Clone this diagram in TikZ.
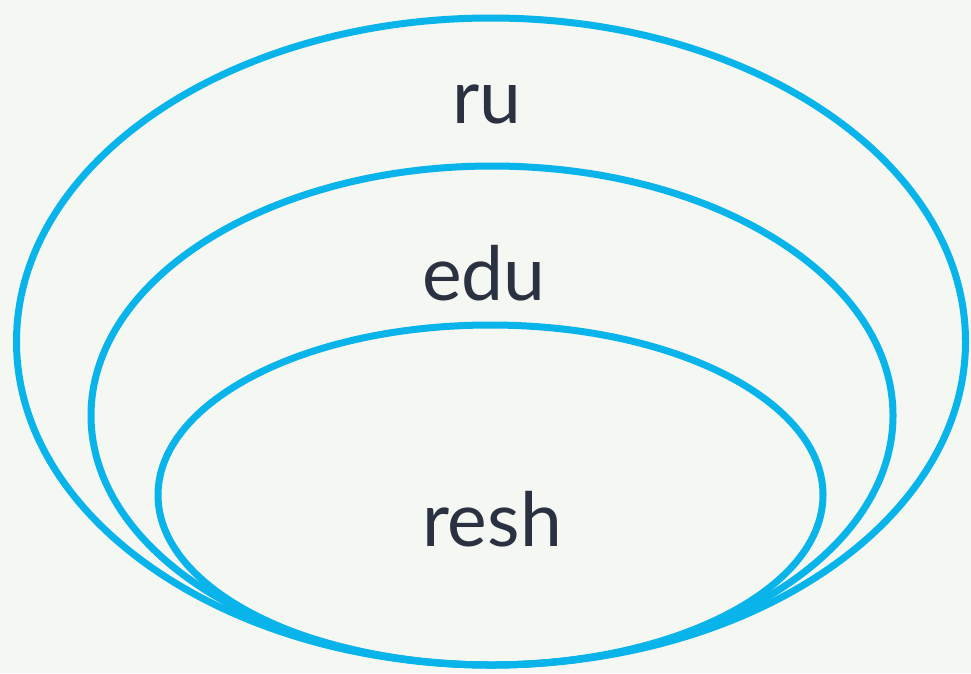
\documentclass[tikz,border=0pt]{standalone}
\usepackage{fontspec}
\setmainfont{Lato}
\definecolor{bgc}{RGB}{245,247,243}
\definecolor{ringc}{RGB}{8,180,234}
\definecolor{txtc}{RGB}{42,50,66}
\begin{document}
\begin{tikzpicture}[x=1pt,y=-1pt,
  ring/.style={draw=ringc,line width=7pt},
  lbl/.style={anchor=base,text=txtc,font=\fontsize{75}{85}\selectfont,inner sep=0pt}]
\fill[bgc] (0,0) rectangle (971,673);
\useasboundingbox (0,0) rectangle (971,673);
\draw[ring] (491,341.5) ellipse [x radius=474.5, y radius=323.5];
\draw[ring] (492,415.5) ellipse [x radius=401, y radius=249.5];
\draw[ring] (490.5,495) ellipse [x radius=332.5, y radius=170];
\node[lbl] (ru) at (487,123) {ru};
\node[lbl] (edu) at (484,300) {edu};
\node[lbl] (resh) at (492,546) {resh};
\end{tikzpicture}
\end{document}
